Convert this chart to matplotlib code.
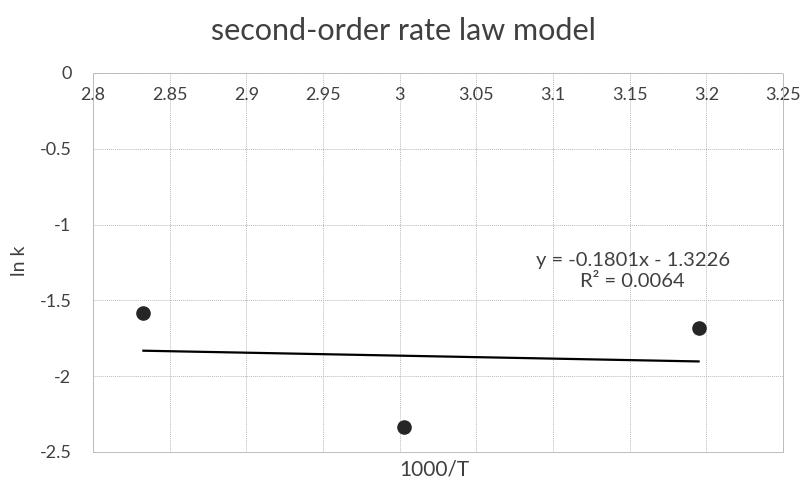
import numpy as np
import matplotlib.pyplot as plt

plt.rcParams['font.family'] = ['Lato', 'DejaVu Sans']

# data (1000/T vs ln k)
inv_T = [1000 / 353, 1000 / 333, 1000 / 313]
ln_k = [-1.583, -2.335, -1.682]
x_ticks = [2.8, 2.85, 2.9, 2.95, 3.0, 3.05, 3.1, 3.15, 3.2, 3.25]
x_tick_labels = ['2.8', '2.85', '2.9', '2.95', '3', '3.05', '3.1', '3.15', '3.2', '3.25']
y_ticks = [0, -0.5, -1, -1.5, -2, -2.5]
y_tick_labels = ['0', '-0.5', '-1', '-1.5', '-2', '-2.5']
eq_text = 'y = -0.1801x - 1.3226\nR² = 0.0064'

fig = plt.figure(figsize=(8.04, 4.83), dpi=100)
ax = fig.add_axes([0.1157, 0.0642, 0.8583, 0.7848])

# trendline (linear fit)
slope, icpt = np.polyfit(inv_T, ln_k, 1)
xs = np.array([min(inv_T), max(inv_T)])
ax.plot(xs, slope * xs + icpt, color='black', lw=1.6, zorder=3)

ax.plot(inv_T, ln_k, 'o', color='#262626', markersize=9.5, zorder=4)

ax.set_xlim(2.8, 3.25)
ax.set_ylim(-2.5, 0)
ax.set_xticks(x_ticks)
ax.set_xticklabels(x_tick_labels)
ax.set_yticks(y_ticks)
ax.set_yticklabels(y_tick_labels)

ax.grid(True, color='#bbbbbb', linestyle=(0, (1, 1)), lw=0.7)
for s in ax.spines.values():
    s.set_color('#bbbbbb')
    s.set_linestyle((0, (1, 1)))
    s.set_linewidth(0.7)

ax.tick_params(axis='x', top=False, bottom=False, labeltop=True, labelbottom=False,
               pad=-25, labelsize=13, labelcolor='#404040')
ax.tick_params(axis='y', left=False, pad=12, labelsize=13, labelcolor='#404040')

ax.text(3.152, -1.305, eq_text, ha='center', va='center', fontsize=14.5,
        color='#404040', linespacing=1.3)

fig.text(0.502, 0.935, 'second-order rate law model', ha='center', va='center',
         fontsize=22, color='#404040')
fig.text(0.54, 0.027, '1000/T', ha='center', va='center', fontsize=15, color='#404040')
fig.text(0.024, 0.46, 'ln k', ha='center', va='center', rotation=90, fontsize=14,
         color='#404040')

fig.savefig('out.png', dpi=100, facecolor='white')
